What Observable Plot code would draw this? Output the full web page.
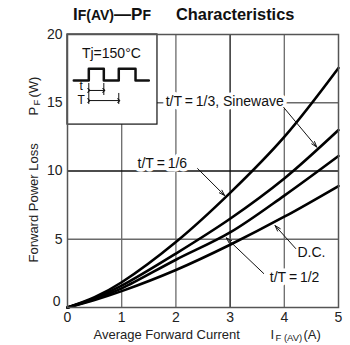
<!DOCTYPE html>
<html><head><meta charset="utf-8">
<script src="https://cdn.jsdelivr.net/npm/d3@7"></script>
<script src="https://cdn.jsdelivr.net/npm/@observablehq/plot@0.6"></script>
<style>
body{margin:0;background:#fff;font-family:'Liberation Sans',Arial,Helvetica,sans-serif;}
#title{height:28px;line-height:28px;padding-left:73px;font-weight:bold;font-size:17px;white-space:pre;color:#111;}
#title .sub{font-size:14px;}
#title .main{font-size:16.4px;margin-left:25px;}
#chart svg{display:block;}
</style>
</head><body>
<div id="title">I<span class="sub">F(AV)</span>—P<span class="sub">F</span><span class="main">Characteristics</span></div>
<div id="chart"></div>
<script>
// Data
const current = [0, 0.5, 1, 2, 3, 4, 5];              // I_F(AV) (A)
const lossDC    = [0, 0.55, 1.2, 2.75, 4.6, 6.65, 8.9]; // P_F (W)
const lossHalf  = [0, 0.62, 1.4, 3.5, 5.5, 8.2, 11.1];
const lossThird = [0, 0.68, 1.6, 3.95, 6.5, 9.45, 13.0];
const lossSixth = [0, 0.75, 1.85, 4.8, 8.4, 12.5, 17.55];
const seriesNames = ["D.C.", "t/T=1/2", "t/T=1/3, Sinewave", "t/T=1/6"];
const xTicks = [0, 1, 2, 3, 4, 5];
const yTicks = [0, 5, 10, 15, 20];

const seriesValues = [lossDC, lossHalf, lossThird, lossSixth];
const rows = seriesNames.flatMap((s, i) => current.map((c, j) => ({series: s, current: c, loss: seriesValues[i][j]})));

const font = "'Liberation Sans', Arial, Helvetica, sans-serif";
const ts = "\u2009";

// annotation labels (data units)
const labels = [
  {x: 2.90, y: 15.09, text: `t/T${ts}=${ts}1/3, Sinewave`},
  {x: 1.75, y: 10.55, text: `t/T${ts}=${ts}1/6`},
  {x: 4.50, y: 4.03, text: "D.C."},
  {x: 4.19, y: 2.2, text: `t/T${ts}=${ts}1/2`}
];
const arrows = [
  {x1: 3.99, y1: 14.65, x2: 4.6, y2: 11.75},
  {x1: 2.40, y1: 10.18, x2: 2.9, y2: 8.2},
  {x1: 4.21, y1: 4.32, x2: 3.83, y2: 6.0},
  {x1: 3.62, y1: 2.49, x2: 2.93, y2: 5.1}
];
// inset waveform legend (data units)
const wave = [[0.116,16.63],[0.393,16.63],[0.393,17.49],[0.670,17.49],[0.670,16.63],[0.946,16.63],[0.946,17.49],[1.255,17.49],[1.255,16.63],[1.50,16.63]];
const ticksV = [
  {x: 0.393, y1: 16.41, y2: 14.87},
  {x: 0.670, y1: 16.41, y2: 15.53},
  {x: 0.946, y1: 15.68, y2: 14.87}
];
const dims = [
  {x1: 0.393, x2: 0.670, y: 15.90},
  {x1: 0.393, x2: 0.946, y: 15.16}
];

const chart = Plot.plot({
  width: 350, height: 317,
  marginTop: 6, marginBottom: 38, marginLeft: 67, marginRight: 12,
  style: {fontFamily: font, fontSize: "14px", background: "white", color: "#222", overflow: "visible"},
  x: {domain: [0, 5], label: null},
  y: {domain: [0, 20], label: null},
  marks: [
    Plot.ruleX([1, 2, 4], {stroke: "#6a6a6a", strokeWidth: 1.3}),
    Plot.ruleX([3], {stroke: "#111", strokeWidth: 1.3}),
    Plot.ruleY([5, 15], {stroke: "#6a6a6a", strokeWidth: 1.3}),
    Plot.ruleY([10], {stroke: "#111", strokeWidth: 1.3}),
    Plot.axisX(xTicks, {tickSize: 0, tickPadding: 5, tickFormat: d => String(d), label: null}),
    Plot.axisY(yTicks.filter(v => v > 0), {tickSize: 0, tickPadding: 5, tickFormat: d => String(d), label: null}),
    Plot.axisY([0], {tickSize: 0, tickPadding: 7, tickFormat: d => String(d), label: null, dy: -6}),
    // inset box
    Plot.rect([{x1: 0, x2: 1.66, y1: 13.4, y2: 20}], {x1: "x1", x2: "x2", y1: "y1", y2: "y2", fill: "white", stroke: "#111", strokeWidth: 1.2}),
    Plot.text(["Tj=150°C"], {x: 0.81, y: 18.6, text: d => d, fontSize: 14, fill: "#111"}),
    Plot.line(wave, {x: d => d[0], y: d => d[1], stroke: "#111", strokeWidth: 2.5}),
    Plot.ruleX(ticksV, {x: "x", y1: "y1", y2: "y2", stroke: "#111", strokeWidth: 1}),
    Plot.link(dims, {x1: "x1", x2: "x2", y1: "y", y2: "y", stroke: "#111", strokeWidth: 1, markerStart: "arrow", markerEnd: "arrow"}),
    Plot.text(["t", "T"], {x: [0.25, 0.25], y: [16.2, 15.2], text: d => d, fontSize: 12, fill: "#111"}),
    // labels with white backing
    Plot.text(labels, {x: "x", y: "y", text: "text", fontSize: 14, fill: "#111", stroke: "white", strokeWidth: 7}),
    // curves
    Plot.line(rows, {x: "current", y: "loss", z: "series", curve: "catmull-rom", stroke: "#000", strokeWidth: 2.6}),
    Plot.arrow(arrows, {x1: "x1", y1: "y1", x2: "x2", y2: "y2", stroke: "#111", strokeWidth: 1, headLength: 9, headAngle: 35}),
    Plot.frame({stroke: "#555", strokeWidth: 1.5}),
    // axis titles
    Plot.text(["Average Forward Current"], {frameAnchor: "bottom-left", text: d => d, textAnchor: "start", lineAnchor: "bottom", dx: 26, dy: 31, fontSize: 13, fill: "#222"}),
    Plot.text(["I"], {frameAnchor: "bottom-left", text: d => d, textAnchor: "start", lineAnchor: "bottom", dx: 203, dy: 31, fontSize: 13, fill: "#222"}),
    Plot.text(["F (AV)"], {frameAnchor: "bottom-left", text: d => d, textAnchor: "start", lineAnchor: "bottom", dx: 208, dy: 33, fontSize: 9.5, fill: "#222"}),
    Plot.text(["(A)"], {frameAnchor: "bottom-left", text: d => d, textAnchor: "start", lineAnchor: "bottom", dx: 236, dy: 31, fontSize: 13, fill: "#222"}),
    Plot.text(["Forward Power Loss"], {frameAnchor: "bottom-left", text: d => d, rotate: -90, textAnchor: "start", lineAnchor: "bottom", dx: -30, dy: -45, fontSize: 13, fill: "#222"}),
    Plot.text(["P"], {frameAnchor: "bottom-left", text: d => d, rotate: -90, textAnchor: "start", lineAnchor: "bottom", dx: -30, dy: -192, fontSize: 13, fill: "#222"}),
    Plot.text(["F"], {frameAnchor: "bottom-left", text: d => d, rotate: -90, textAnchor: "start", lineAnchor: "bottom", dx: -28, dy: -202, fontSize: 9.5, fill: "#222"}),
    Plot.text(["(W)"], {frameAnchor: "bottom-left", text: d => d, rotate: -90, textAnchor: "start", lineAnchor: "bottom", dx: -30, dy: -210, fontSize: 13, fill: "#222"})
  ]
});
document.getElementById("chart").appendChild(chart);
</script>
</body></html>
